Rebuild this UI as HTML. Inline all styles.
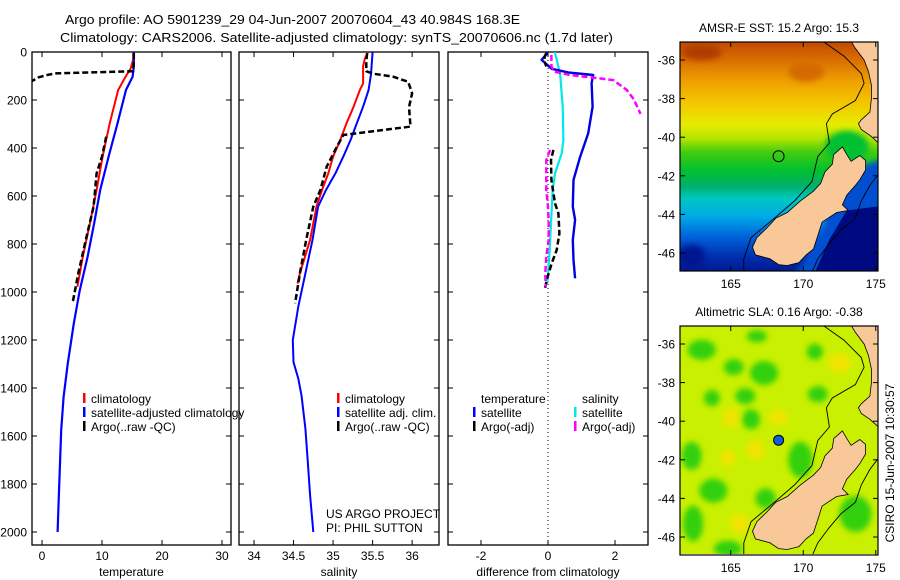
<!DOCTYPE html>
<html><head><meta charset="utf-8"><style>
html,body{margin:0;padding:0;background:#fff;}
svg{display:block;font-family:"Liberation Sans",Arial,sans-serif;}
</style></head><body>
<svg id="fig" width="900" height="580" viewBox="0 0 900 580" xmlns="http://www.w3.org/2000/svg">
<defs>
<clipPath id="c1"><rect x="32" y="52" width="199" height="493"/></clipPath>
<clipPath id="c2"><rect x="239" y="52" width="200" height="493"/></clipPath>
<clipPath id="c3"><rect x="448" y="52" width="200" height="493"/></clipPath>
<clipPath id="cm1"><rect x="680" y="42" width="198" height="229"/></clipPath>
<clipPath id="cm2"><rect x="680" y="326" width="198" height="228"/></clipPath>
<linearGradient id="sstg" x1="0" y1="0" x2="0" y2="1">
<stop offset="0" stop-color="#c04a00"/><stop offset="0.07" stop-color="#d86a00"/>
<stop offset="0.17" stop-color="#eea000"/><stop offset="0.27" stop-color="#f4c800"/>
<stop offset="0.36" stop-color="#e4ec00"/><stop offset="0.42" stop-color="#b4e400"/>
<stop offset="0.48" stop-color="#40cc10"/><stop offset="0.56" stop-color="#00c030"/>
<stop offset="0.63" stop-color="#00b070"/><stop offset="0.68" stop-color="#00c8c0"/>
<stop offset="0.76" stop-color="#00a8e8"/><stop offset="0.85" stop-color="#0060d8"/>
<stop offset="0.93" stop-color="#0030b0"/><stop offset="1" stop-color="#001890"/>
</linearGradient>
<filter id="blur" x="-50%" y="-50%" width="200%" height="200%"><feGaussianBlur stdDeviation="3"/></filter>
</defs>
<g id="titles">
<text x="65" y="24" font-size="13" textLength="455" lengthAdjust="spacingAndGlyphs">Argo profile: AO 5901239_29 04-Jun-2007 20070604_43 40.984S 168.3E</text>
<text x="60" y="42" font-size="13" textLength="553" lengthAdjust="spacingAndGlyphs">Climatology: CARS2006. Satellite-adjusted climatology: synTS_20070606.nc (1.7d later)</text>
</g>
<g id="panels"></g>
<g id="maps"></g>
<text transform="translate(894,463) rotate(-90)" font-size="12" text-anchor="middle">CSIRO 15-Jun-2007 10:30:57</text>
</svg>
<script>
// ---- data ----
const depthTicks=[0,200,400,600,800,1000,1200,1400,1600,1800,2000];
const tempTicks=[0,10,20,30];
const salTicks=[34,34.5,35,35.5,36];
const diffTicks=[-2,0,2];
// temperature panel
const climTDepth=[0,30,68,100,158,296,436,575,713,853,978];
const climT=[15.2,15.2,14.8,14.0,12.7,11.3,10.1,9.1,8.0,6.8,5.9];
const satTDepth=[0,60,103,158,296,436,575,713,853,992,1131,1297,1437,1575,1714,1853,2000];
const satT=[15.3,15.3,15.1,14.0,12.6,11.1,9.7,8.7,7.6,6.3,5.3,4.3,3.6,3.2,3.0,2.8,2.6];
const argoTDepth=[5,40,80,89,95,105,120,130,null,353,436,506,644,783,922,1033,1045];
const argoT=[15.3,15.3,15.2,2.2,1.0,-0.5,-1.6,-3,null,10.7,10.0,9.1,8.6,7.3,6.05,5.2,5.0];
// salinity panel
const climSDepth=[0,30,60,131,158,228,297,367,436,506,575,644,783,922,965];
const climS=[35.44,35.40,35.38,35.38,35.34,35.26,35.17,35.09,35.0,34.94,34.86,34.79,34.71,34.58,34.55];
const satSDepth=[0,93,158,228,297,367,436,506,575,644,783,922,1061,1200,1292,1361,1431,1569,1708,1847,2000];
const satS=[35.50,35.48,35.45,35.38,35.30,35.22,35.13,35.03,34.91,34.81,34.74,34.65,34.56,34.49,34.50,34.56,34.60,34.65,34.68,34.71,34.75];
const argoSDepth=[5,40,80,90,103,124,172,230,311,346,400,478,575,644,783,922,1047];
const argoS=[35.43,35.42,35.42,35.5,35.76,35.95,36.0,35.96,35.98,35.13,35.04,34.92,34.84,34.75,34.66,34.58,34.52];
// difference panel
const satTdDepth=[0,10,33,50,70,85,96,130,228,339,436,533,644,700,783,867,943];
const satTd=[0,-0.05,-0.19,-0.05,0.11,0.6,1.35,1.30,1.33,1.20,0.96,0.76,0.74,0.81,0.74,0.76,0.81];
const satSdDepth=[0,89,228,367,422,506,575,714,853,964];
const satSd=[0.2,0.36,0.44,0.46,0.41,0.21,0.14,0.09,0.04,-0.02];
const argoTdDepth=[5,20,40,60,null,408,450,533,631,672,756,825,881,950,985];
const argoTd=[-0.05,-0.1,-0.1,-0.05,null,0.16,0.09,0.1,0.21,0.31,0.34,0.26,0.11,-0.04,-0.09];
const argoSdDepth=[12,60,82,96,110,117,158,197,258,null,408,450,506,575,644,714,783,853,922,978];
const argoSd=[0.1,0.1,0.2,0.65,1.55,1.95,2.35,2.56,2.76,null,0.06,-0.05,-0.05,-0.05,0.0,0.02,0.02,-0.05,-0.08,-0.07];
// map lat/lon ticks
const lonTicks=[165,170,175];
const latTicks=[-36,-38,-40,-42,-44,-46];
const floatLon=168.3, floatLat=-40.984;

const NS='http://www.w3.org/2000/svg';
function mk(tag,attrs,parent){const e=document.createElementNS(NS,tag);for(const k in attrs)e.setAttribute(k,attrs[k]);if(parent)parent.appendChild(e);return e;}
function yD(d){return 52+d*0.24;}
const panelsG=document.getElementById('panels');
const P=[
 {name:'temperature',x0:32,x1:231,lo:-1.67,hi:31.5,ticks:tempTicks,clip:'c1',labels:true},
 {name:'salinity',x0:239,x1:439,lo:33.81,hi:36.34,ticks:salTicks,clip:'c2',labels:false},
 {name:'difference',x0:448,x1:648,lo:-2.985,hi:2.985,ticks:diffTicks,clip:'c3',labels:false}
];
function xs(p,v){return p.x0+(v-p.lo)/(p.hi-p.lo)*(p.x1-p.x0);}
const Y0=52,Y1=545;
P.forEach((p,i)=>{
 const g=mk('g',{},panelsG);
 
 
 const r=mk('rect',{x:p.x0,y:Y0,width:p.x1-p.x0,height:Y1-Y0,fill:'none',stroke:'#000','stroke-width':1.3},g);
 
 
 depthTicks.forEach(d=>{
  const y=yD(d);
  mk('line',{x1:p.x0,x2:p.x0+5,y1:y,y2:y,stroke:'#000'},g);
  mk('line',{x1:p.x1-5,x2:p.x1,y1:y,y2:y,stroke:'#000'},g);
  if(p.labels){const t=mk('text',{x:27,y:y+4.5,'font-size':12,'text-anchor':'end'},g);t.textContent=d;
   
   }
 });
 p.ticks.forEach(v=>{
  const x=xs(p,v);
  mk('line',{x1:x,x2:x,y1:Y0,y2:Y0+5,stroke:'#000'},g);
  mk('line',{x1:x,x2:x,y1:Y1-5,y2:Y1,stroke:'#000'},g);
  const t=mk('text',{x:x,y:560,'font-size':12,'text-anchor':'middle'},g);t.textContent=v;
  
  
 });
 const lab=mk('text',{x:(p.x0+p.x1)/2,y:576,'font-size':12,'text-anchor':'middle'},g);
 lab.textContent=i===2?'difference from climatology':p.name;
 
 
});
function series(pi,depths,vals,color,w,dash,name){
 const p=P[pi];let dstr='',pen=false;
 for(let k=0;k<depths.length;k++){
  if(depths[k]===null||vals[k]===null){pen=false;continue;}
  dstr+=(pen?'L':'M')+xs(p,vals[k]).toFixed(1)+','+yD(depths[k]).toFixed(1);pen=true;
 }
 const a={d:dstr,fill:'none',stroke:color,'stroke-width':w,'clip-path':'url(#'+p.clip+')','stroke-linejoin':'round'};
 if(dash)a['stroke-dasharray']=dash;
 const e=mk('path',a,panelsG);
 
 
}
// zero line
const zl=mk('line',{x1:xs(P[2],0),x2:xs(P[2],0),y1:Y0,y2:Y1,stroke:'#000','stroke-dasharray':'1 3'},panelsG);


series(0,climTDepth,climT,'#f00',2,null,'temperature-climatology-line');
series(0,satTDepth,satT,'#00f',2.2,null,'temperature-satellite-line');
series(0,argoTDepth,argoT,'#000',2.5,'6 3','temperature-argo-line');
series(1,climSDepth,climS,'#f00',2,null,'salinity-climatology-line');
series(1,satSDepth,satS,'#00f',2,null,'salinity-satellite-line');
series(1,argoSDepth,argoS,'#000',2.5,'6 3','salinity-argo-line');
series(2,satSdDepth,satSd,'#00e8e8',2.2,null,'salinity-diff-satellite-line');
series(2,satTdDepth,satTd,'#0000e0',2.4,null,'temperature-diff-satellite-line');
series(2,argoTdDepth,argoTd,'#000',2.5,'6 3','temperature-diff-argo-line');
series(2,argoSdDepth,argoSd,'#f0f',2.5,'6 3','salinity-diff-argo-line');
// legends
function legend(x,y,color,text,name){
 const g=mk('g',{},panelsG);
 
 
 if(color)mk('rect',{x:x-8,y:y-10,width:2.5,height:10,fill:color},g);
 const t=mk('text',{x:x,y:y,'font-size':12},g);t.textContent=text;
}
legend(91,403,'#f00','climatology','legend-climatology');
legend(91,417,'#00f','satellite-adjusted climatology','legend-satellite');
legend(91,431,'#000','Argo(..raw -QC)','legend-argo');
legend(345,403,'#f00','climatology','legend2-climatology');
legend(345,417,'#00f','satellite adj. clim.','legend2-satellite');
legend(345,431,'#000','Argo(..raw -QC)','legend2-argo');
legend(481,403,null,'temperature','legend3-temperature-header');
legend(481,417,'#00f','satellite','legend3-temp-satellite');
legend(481,431,'#000','Argo(-adj)','legend3-temp-argo');
legend(582,403,null,'salinity','legend3-salinity-header');
legend(582,417,'#00e8e8','satellite','legend3-sal-satellite');
legend(582,431,'#f0f','Argo(-adj)','legend3-sal-argo');
legend(326,518,null,'US ARGO PROJECT','project-label');
legend(326,532,null,'PI: PHIL SUTTON','pi-label');

// ---- maps ----
const mapsG=document.getElementById('maps');
const southIsland=[[172.7,-40.5],[173.0,-40.9],[173.3,-41.25],[173.9,-40.95],[174.3,-41.2],[174.3,-41.7],[173.9,-42.2],[173.6,-42.5],[173.0,-43.0],[172.7,-43.5],[173.1,-43.8],[172.3,-43.9],[171.3,-44.4],[171.0,-45.1],[170.7,-45.8],[170.2,-46.1],[169.7,-46.5],[168.9,-46.65],[168.3,-46.6],[167.7,-46.3],[166.7,-46.1],[166.5,-45.7],[166.8,-45.2],[167.5,-44.7],[168.1,-44.2],[168.9,-43.9],[169.8,-43.3],[170.7,-42.8],[171.2,-42.4],[171.5,-41.8],[172.0,-41.4],[172.1,-40.9]];
const northIsland=[[173.2,-34.9],[173.6,-35.4],[174.2,-36.0],[174.5,-36.6],[174.7,-37.3],[174.7,-38.0],[174.6,-38.7],[174.0,-39.1],[173.8,-39.3],[174.0,-39.6],[174.6,-39.9],[175.2,-40.3],[176,-40.3],[176,-34.5],[173.0,-34.5]];
const shelf=[[171.3,-35.0],[172.8,-35.8],[174.0,-36.7],[174.2,-37.2],[173.6,-38.1],[172.0,-38.8],[171.6,-39.3],[171.8,-40.3],[171.0,-41.0],[170.6,-42.3],[169.4,-43.3],[168.0,-44.2],[166.4,-45.2],[165.9,-46.3],[165.9,-47]];
const shelfE=[[175.5,-41.6],[174.6,-42.5],[174.0,-43.3],[173.6,-44.2],[172.6,-44.8],[171.8,-45.5],[171.0,-46.3],[170.6,-47]];
function buildMap(top,clip,title,isSST){
 const g=mk('g',{},mapsG);
 
 
 const px=lon=>680+(lon-161.5)*14.5;
 const py=lat=>top+18+(-36-lat)*19.3;
 const pts=a=>a.map(p=>px(p[0]).toFixed(1)+','+py(p[1]).toFixed(1)).join(' ');
 const inner=mk('g',{'clip-path':'url(#'+clip+')'},g);
 if(isSST){
  mk('rect',{x:680,y:top,width:198,height:230,fill:'url(#sstg)'},inner);
  const dk=mk('g',{filter:'url(#blur)'},inner);
  mk('ellipse',{cx:px(163),cy:py(-35.6),rx:20,ry:8,fill:'#b03c00'},dk);
  mk('ellipse',{cx:px(170.2),cy:py(-36.6),rx:18,ry:10,fill:'#d46a00'},dk);
  mk('ellipse',{cx:px(173),cy:py(-40.5),rx:22,ry:16,fill:'#00c030'},dk);
  mk('polygon',{points:pts([[171.5,-42.6],[174,-41.5],[176,-41],[176,-47.5],[169,-47.5],[170,-46.5],[171.5,-44.5]]),fill:'#0050d0'},dk);
  mk('polygon',{points:pts([[173,-43.8],[176,-43.5],[176,-47.5],[170.5,-47.5],[171.8,-45.3]]),fill:'#000a80'},inner);
  mk('ellipse',{cx:px(162.3),cy:py(-46.2),rx:14,ry:12,fill:'#001890'},dk);
 } else {
  mk('rect',{x:680,y:top,width:198,height:230,fill:'#c8f000'},inner);
  const bl=mk('g',{filter:'url(#blur)'},inner);
  const greens=[[163,-36.3,14,10],[165.2,-37.2,10,8],[167.3,-37.5,14,12],[166,-38.7,10,8],[166.4,-39.9,9,10],[162.3,-41.8,10,14],[163.8,-43.6,14,12],[162.4,-45.3,10,18],[164.8,-46.6,14,8],[167.4,-44,10,10],[169.8,-42,12,18],[171,-38.6,10,8],[173.6,-44.8,16,18],[163.7,-38.8,8,8],[166.8,-35.6,10,6],[170.8,-36.4,8,8]];
  greens.forEach(e=>mk('ellipse',{cx:px(e[0]),cy:py(e[1]),rx:e[2],ry:e[3],fill:'#30d010'},bl));
  const yell=[[165,-39.8,8,10],[166.7,-41.5,9,10],[168.3,-39.8,10,8],[165.6,-45.3,10,10],[172.5,-37,12,10],[164.8,-41.9,8,8]];
  yell.forEach(e=>mk('ellipse',{cx:px(e[0]),cy:py(e[1]),rx:e[2],ry:e[3],fill:'#f0e400'},bl));
 }
 mk('polyline',{points:pts(shelf),fill:'none',stroke:'#000','stroke-width':0.9},inner);
 mk('polyline',{points:pts(shelfE),fill:'none',stroke:'#000','stroke-width':0.9},inner);
 const si=mk('polygon',{points:pts(southIsland),fill:'#f8c898',stroke:'#000','stroke-width':0.8},inner);
 
 
 const ni=mk('polygon',{points:pts(northIsland),fill:'#f8c898',stroke:'#000','stroke-width':0.8},inner);
 
 
 const fm=mk('circle',{cx:px(floatLon),cy:py(floatLat),r:isSST?5.5:5,fill:isSST?'none':'#1060e0',stroke:'#000','stroke-width':1},g);
 
 
 mk('rect',{x:680,y:top,width:198,height:229,fill:'none',stroke:'#000','stroke-width':1.2},g);
 lonTicks.forEach(l=>{const x=px(l);
  mk('line',{x1:x,x2:x,y1:top,y2:top+5,stroke:'#000'},g);
  mk('line',{x1:x,x2:x,y1:top+229-5,y2:top+229,stroke:'#000'},g);
  const t=mk('text',{x:x,y:top+246,'font-size':12,'text-anchor':'middle'},g);t.textContent=l;
  
  });
 latTicks.forEach(l=>{const y=py(l);
  mk('line',{x1:680,x2:685,y1:y,y2:y,stroke:'#000'},g);
  mk('line',{x1:873,x2:878,y1:y,y2:y,stroke:'#000'},g);
  const t=mk('text',{x:675,y:y+4.5,'font-size':12,'text-anchor':'end'},g);t.textContent=l;
  
  });
 const tt=mk('text',{x:779,y:top-10,'font-size':12,'text-anchor':'middle'},g);tt.textContent=title;
 
 
}
buildMap(42,'cm1','AMSR-E SST: 15.2 Argo: 15.3',true);
buildMap(326,'cm2','Altimetric SLA: 0.16 Argo: -0.38',false);
</script>
</body></html>
